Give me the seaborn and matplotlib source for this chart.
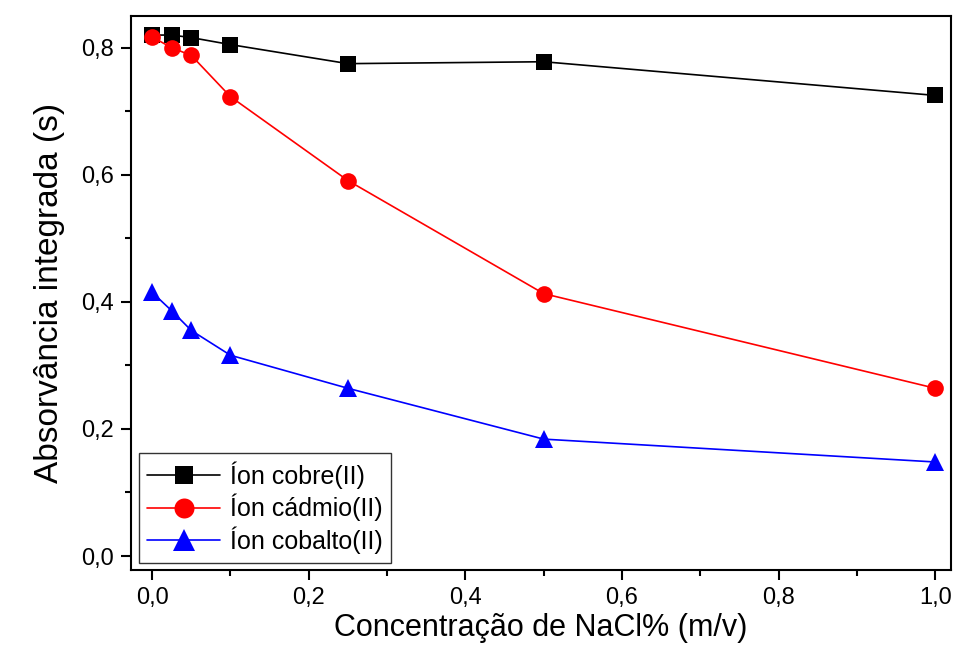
import matplotlib
matplotlib.use("Agg")
import matplotlib.pyplot as plt
import seaborn as sns
import pandas as pd
from matplotlib.ticker import FuncFormatter, MultipleLocator

conc = [0.0, 0.025, 0.05, 0.1, 0.25, 0.5, 1.0]
cobre = [0.820, 0.820, 0.816, 0.805, 0.775, 0.778, 0.725]
cadmio = [0.817, 0.800, 0.788, 0.723, 0.591, 0.413, 0.264]
cobalto = [0.415, 0.386, 0.355, 0.316, 0.264, 0.184, 0.148]
labels = ["Íon cobre(II)", "Íon cádmio(II)", "Íon cobalto(II)"]

sns.set_style("ticks", {"axes.edgecolor": "black", "text.color": "black",
                        "xtick.color": "black", "ytick.color": "black",
                        "axes.labelcolor": "black"})
plt.rcParams['font.family'] = ['Liberation Sans', 'DejaVu Sans']

fig = plt.figure(figsize=(9.54, 6.5), dpi=100)
ax = fig.add_axes([131/954, 80/650, (951-131)/954, (570-16)/650])

styles = [("black", "s", 11), ("red", "o", 12), ("blue", "^", 13)]
for vals, lab, (c, m, ms) in zip([cobre, cadmio, cobalto], labels, styles):
    df = pd.DataFrame({"x": conc, "y": vals})
    sns.lineplot(data=df, x="x", y="y", ax=ax, color=c, marker=m, markersize=ms,
                 markeredgewidth=0, linewidth=1.2, label=lab)

ax.set_xlim(-0.027, 1.02)
ax.set_ylim(-0.022, 0.850)
ax.xaxis.set_major_locator(MultipleLocator(0.2))
ax.xaxis.set_minor_locator(MultipleLocator(0.1))
ax.yaxis.set_major_locator(MultipleLocator(0.2))
ax.yaxis.set_minor_locator(MultipleLocator(0.1))
fmt = FuncFormatter(lambda v, p: f"{v:.1f}".replace(".", ","))
ax.xaxis.set_major_formatter(fmt)
ax.yaxis.set_major_formatter(fmt)
ax.tick_params(which="major", direction="out", length=7, width=1.5, labelsize=17, pad=5,
               colors="black")
ax.tick_params(which="minor", direction="out", length=4, width=1.5, colors="black")
for s in ax.spines.values():
    s.set_linewidth(1.5)
    s.set_color("black")
    s.set_visible(True)

ax.set_xlabel("Concentração de NaCl% (m/v)", fontsize=22, labelpad=3, color="black")
ax.set_ylabel("Absorvância integrada (s)", fontsize=24, labelpad=12, color="black")

leg = ax.legend(loc="lower left", fontsize=18, frameon=True, fancybox=False,
                edgecolor="black", handlelength=2.9, borderpad=0.35,
                labelspacing=0.2, handletextpad=0.4, borderaxespad=0.3,
                bbox_to_anchor=(0.0, 0.0), markerscale=1.2)
leg.get_frame().set_linewidth(1.0)
for t in leg.get_texts():
    t.set_color("black")

fig.savefig("out.png", dpi=100)
